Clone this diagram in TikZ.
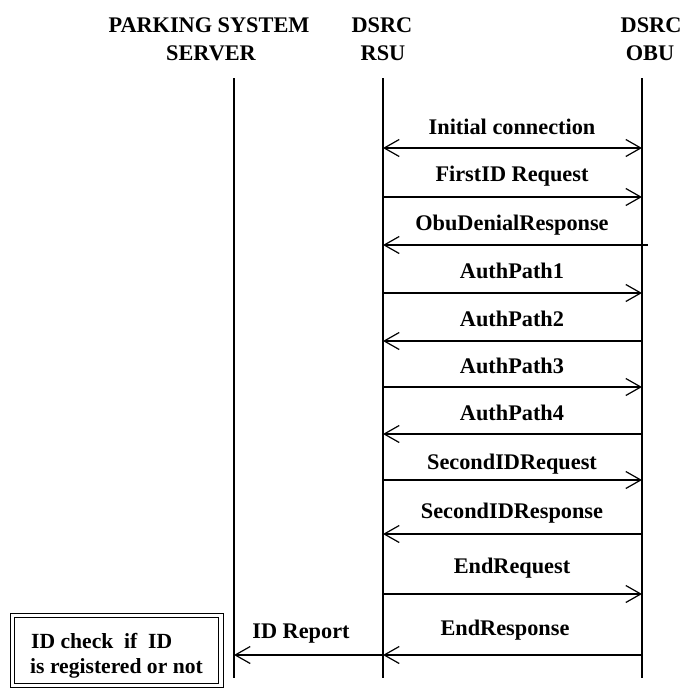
\documentclass[tikz,border=0pt]{standalone}
\usepackage{fontspec}
\setmainfont{Liberation Serif}
\usetikzlibrary{arrows.meta}
\begin{document}
\begin{tikzpicture}[x=1pt,y=-1pt,
  life/.style={line width=1.2pt},
  msg/.style={line width=1.2pt},
  rtip/.style={-{Straight Barb[length=15pt,width=17pt,line width=1.2pt]}},
  ltip/.style={{Straight Barb[length=15pt,width=17pt,line width=1.2pt]}-},
  btip/.style={{Straight Barb[length=15pt,width=17pt,line width=1.2pt]}-{Straight Barb[length=15pt,width=17pt,line width=1.2pt]}},
  lbl/.style={font=\fontsize{22.3}{26}\selectfont\bfseries, anchor=base, inner sep=0pt},
  boxtxt/.style={font=\fontsize{21.6}{26}\selectfont\bfseries, anchor=base west, inner sep=0pt},
  head/.style={font=\fontsize{22.3}{28}\selectfont\bfseries, anchor=base, inner sep=0pt}]
\useasboundingbox (0,0) rectangle (685,688);
\clip (0,0) rectangle (685,688);
% headers
\node[head] (h1a) at (209,32) {PARKING SYSTEM};
\node[head] (h1b) at (211,60) {SERVER};
\node[head] (h2a) at (382,32) {DSRC};
\node[head] (h2b) at (383,60) {RSU};
\node[head] (h3a) at (651,32) {DSRC};
\node[head] (h3b) at (650,60) {OBU};
% lifelines
\coordinate (st) at (234,78); \coordinate (sb) at (234,678);
\coordinate (rt) at (383,78); \coordinate (rb) at (383,678);
\coordinate (ot) at (642,78); \coordinate (ob) at (642,678);
\draw[life] (st) -- (sb);
\draw[life] (rt) -- (rb);
\draw[life] (ot) -- (ob);
% message endpoints
\foreach \n/\y in {1/148,2/197,3/245,4/293,5/341,6/387,7/434,8/480,9/534,10/594,11/655}{
  \coordinate (r\n) at (383,\y);
  \coordinate (o\n) at (642,\y);
}
\coordinate (o3x) at (648,245);
\coordinate (s11) at (234,655);
% messages
\draw[msg,btip] (r1) -- (o1);
\draw[msg,rtip] (r2) -- (o2);
\draw[msg,ltip] (r3) -- (o3x);
\draw[msg,rtip] (r4) -- (o4);
\draw[msg,ltip] (r5) -- (o5);
\draw[msg,rtip] (r6) -- (o6);
\draw[msg,ltip] (r7) -- (o7);
\draw[msg,rtip] (r8) -- (o8);
\draw[msg,ltip] (r9) -- (o9);
\draw[msg,rtip] (r10) -- (o10);
\draw[msg,ltip] (r11) -- (o11);
\draw[msg,ltip] (s11) -- (r11);
% labels
\node[lbl] (l1) at (512,134) {Initial connection};
\node[lbl] (l2) at (512,181) {FirstID Request};
\node[lbl] (l3) at (512,230) {ObuDenialResponse};
\node[lbl] (l4) at (512,278) {AuthPath1};
\node[lbl] (l5) at (512,326) {AuthPath2};
\node[lbl] (l6) at (512,373) {AuthPath3};
\node[lbl] (l7) at (512,420) {AuthPath4};
\node[lbl] (l8) at (512,469) {SecondIDRequest};
\node[lbl] (l9) at (512,518) {SecondIDResponse};
\node[lbl] (l10) at (512,573) {EndRequest};
\node[lbl] (l11) at (505,635) {EndResponse};
\node[lbl] (l12) at (301,638) {ID Report};
% box
\draw[line width=1pt] (10,613) rectangle (223,687.3);
\draw[line width=1pt] (14.5,617) rectangle (218.5,683.5);
\node[boxtxt] (b1) at (31,648) {ID check\ \ if\ \ ID};
\node[boxtxt] (b2) at (30,673) {is registered or not};
\end{tikzpicture}
\end{document}
